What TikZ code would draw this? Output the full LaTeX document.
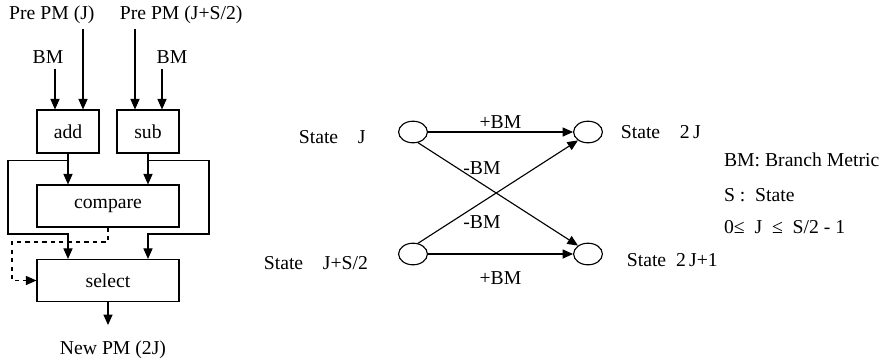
\documentclass[tikz,border=0pt]{standalone}
\usepackage{fontspec}
\setmainfont{Liberation Serif}
\usetikzlibrary{arrows.meta,shapes.geometric}

\begin{document}
\begin{tikzpicture}[
  font=\fontsize{14}{16}\selectfont,
  line width=0.8pt,
  >={Triangle[length=7.5pt,width=6.5pt]},
  unit/.style={draw,minimum width=1.55cm,minimum height=1.075cm,inner sep=0pt},
  wideunit/.style={draw,minimum width=3.55cm,minimum height=1.05cm,inner sep=0pt},
  state/.style={draw,ellipse,minimum width=0.72cm,minimum height=0.54cm,inner sep=0pt},
]
\useasboundingbox (0,0) rectangle (22.05,-9.025);

% add-compare-select unit
\node (prej) at (0.1,-0.375) [anchor=west] {Pre PM (J)};
\node (prejs) at (2.865,-0.375) [anchor=west] {Pre PM (J+S/2)};
\node (bm1) at (1.2,-1.425) {BM};
\node (bm2) at (4.3,-1.425) {BM};

\node (add) at (1.7,-3.2875) [unit] {add};
\node (sub) at (3.7,-3.2875) [unit] {sub};
\node (cmp) at (2.7,-5.15) [wideunit] {compare};
\node (sel) at (2.7,-7.0125) [wideunit] {select};
\node (newpm) at (2.825,-8.75) {New PM (2J)};

\coordinate (a1) at ([xshift=-0.325cm]add.north);
\coordinate (a2) at ([xshift=0.375cm]add.north);
\coordinate (s1) at ([xshift=-0.325cm]sub.north);
\coordinate (s2) at ([xshift=0.35cm]sub.north);

\draw[->] (bm1.south -| a1) to (a1);
\draw[->] (prej.south -| a2) to (a2);
\draw[->] (prejs.south -| s1) to (s1);
\draw[->] (bm2.south -| s2) to (s2);

\coordinate (jl) at ([yshift=-0.175cm]add.south);
\coordinate (jr) at ([yshift=-0.175cm]sub.south);
\coordinate (lc) at (0.2,-5.85);
\coordinate (rc) at (5.225,-5.85);
\coordinate (dc) at (0.3,-6.05);
\coordinate (out) at ([yshift=-0.575cm]sel.south);

\draw[->] (add.south) to (add.south |- cmp.north);
\draw[->] (sub.south) to (sub.south |- cmp.north);
\draw[->] (jl) -| (lc) -| (add.south |- sel.north);
\draw[->] (jr) -| (rc) -| (sub.south |- sel.north);
\draw[->,dashed] (cmp.south) |- (dc) |- (sel.west);
\draw[->] (sel.south) to (out);

% butterfly
\node (sj) at (10.325,-3.3) [state] {};
\node (s2j) at (14.7,-3.3) [state] {};
\node (sjs) at (10.325,-6.35) [state] {};
\node (s2j1) at (14.7,-6.35) [state] {};

\node (lsj) at (7.34,-3.425) [anchor=west] {State\quad J};
\node (lsjs) at (6.465,-6.575) [anchor=west] {State\quad J+S/2};
\node (ls2j) at (15.39,-3.3) [anchor=west] {State\quad 2\,J};
\node (ls2j1) at (15.54,-6.5) [anchor=west] {State\enspace 2\,J+1};

\draw[->] (sj) to node[above,inner sep=2pt] {+BM} (s2j);
\draw[->] (sjs) to node[below=0.3cm] {+BM} (s2j1);
\draw[->] (sj.-65) to node[pos=0.4,above=0.1cm] {-BM} (s2j1.140);
\draw[->] (sjs.65) to node[pos=0.4,below=0.2cm] {-BM} (s2j.-140);

\node (key1) at (17.97,-4.0) [anchor=west] {BM: Branch Metric};
\node (key2) at (17.97,-4.875) [anchor=west] {S :\enspace State};
\node (key3) at (17.97,-5.675) [anchor=west] {0≤\enspace J\enspace ≤\enspace S/2 - 1};

\end{tikzpicture}
\end{document}
